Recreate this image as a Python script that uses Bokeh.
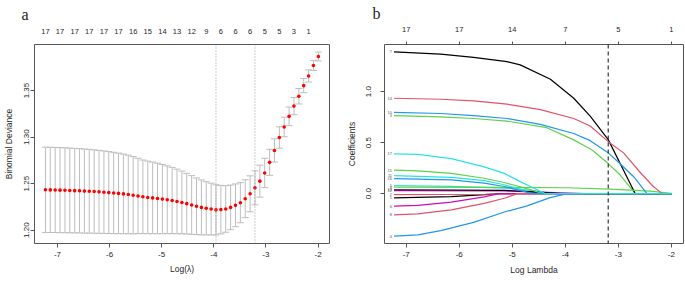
from bokeh.plotting import figure
from bokeh.models import (Range1d, FixedTicker, LinearAxis, Span, ColumnDataSource,
                          Whisker, TeeHead, PrintfTickFormatter)
from bokeh.layouts import row
from bokeh.embed import file_html
from bokeh.resources import INLINE
from bokeh.core.properties import value

# ---------------- data: panel a (cross-validation) ----------------
log_lambda = [-7.230, -7.137, -7.043, -6.950, -6.856, -6.763, -6.669, -6.576, -6.482, -6.389,
              -6.295, -6.202, -6.108, -6.015, -5.921, -5.828, -5.734, -5.641, -5.547, -5.454,
              -5.360, -5.267, -5.173, -5.080, -4.986, -4.893, -4.799, -4.706, -4.612, -4.519,
              -4.425, -4.332, -4.238, -4.145, -4.051, -3.958, -3.864, -3.771, -3.677, -3.584,
              -3.490, -3.397, -3.303, -3.210, -3.116, -3.023, -2.929, -2.836, -2.742, -2.649,
              -2.555, -2.462, -2.368, -2.275, -2.181, -2.088, -1.994]
cv_mean = [1.2434, 1.2433, 1.2432, 1.2430, 1.2429, 1.2427, 1.2425, 1.2423, 1.2420, 1.2418,
           1.2415, 1.2412, 1.2408, 1.2404, 1.2400, 1.2395, 1.2390, 1.2384, 1.2376, 1.2368,
           1.2359, 1.2352, 1.2347, 1.2341, 1.2334, 1.2327, 1.2319, 1.2309, 1.2298, 1.2285,
           1.2271, 1.2257, 1.2245, 1.2235, 1.2227, 1.2218, 1.2221, 1.2228, 1.2245, 1.2267,
           1.2295, 1.2338, 1.2391, 1.2455, 1.2527, 1.2615, 1.2729, 1.2857, 1.2996, 1.3109,
           1.3223, 1.3333, 1.3439, 1.3553, 1.3657, 1.3770, 1.3866]
cv_sd = [0.0458, 0.0458, 0.0457, 0.0457, 0.0456, 0.0455, 0.0454, 0.0453, 0.0452, 0.0450,
         0.0448, 0.0446, 0.0443, 0.0440, 0.0437, 0.0433, 0.0428, 0.0422, 0.0415, 0.0405,
         0.0395, 0.0390, 0.0385, 0.0379, 0.0372, 0.0364, 0.0356, 0.0347, 0.0337, 0.0326,
         0.0315, 0.0304, 0.0295, 0.0286, 0.0278, 0.0270, 0.0260, 0.0250, 0.0240, 0.0230,
         0.0215, 0.0203, 0.0193, 0.0183, 0.0172, 0.0158, 0.0140, 0.0125, 0.0115, 0.0105,
         0.0100, 0.0092, 0.0083, 0.0076, 0.0065, 0.0055, 0.0048]
nzero_labels = ["17", "17", "17", "17", "17", "17", "16", "15", "14", "13",
                "12", "9", "6", "6", "6", "5", "5", "3", "1"]
log_lambda_min = -3.958
log_lambda_1se = -3.210
dev_ticks = [1.20, 1.25, 1.30, 1.35]
x_ticks = [-7, -6, -5, -4, -3, -2]

# ---------------- data: panel b (coefficient paths) ----------------
path_vars = [1, 2, 3, 4, 5, 6, 7, 8, 9, 10, 11, 12, 13, 14, 15, 16, 17]
x_v1 = [-7.23, -6.15, -5.60, -5.20, -1.994]
y_v1 = [-0.042, -0.030, -0.012, 0.0, 0.0]
x_v2 = [-7.23, -5.50, -4.90, -1.994]
y_v2 = [-0.010, -0.006, 0.0, 0.0]
x_v3 = [-7.23, -6.35, -5.73, -5.10, -4.35, -3.85, -3.50, -3.19, -2.96, -2.68, -1.994]
y_v3 = [0.766, 0.753, 0.737, 0.712, 0.647, 0.530, 0.430, 0.295, 0.180, 0.0, 0.0]
x_v4 = [-7.23, -6.78, -6.35, -5.73, -5.15, -4.72, -4.30, -3.97, -1.994]
y_v4 = [-0.417, -0.404, -0.362, -0.282, -0.180, -0.120, -0.042, 0.0, 0.0]
x_v5 = [-7.23, -6.15, -5.15, -4.60, -4.20, -1.994]
y_v5 = [0.080, 0.072, 0.055, 0.030, 0.0, 0.0]
x_v6 = [-7.23, -6.78, -6.15, -5.53, -5.25, -1.994]
y_v6 = [-0.122, -0.115, -0.083, -0.032, 0.0, 0.0]
x_v7 = [-7.23, -6.35, -5.73, -5.10, -4.85, -4.28, -3.84, -3.53, -3.19, -2.68, -1.994]
y_v7 = [1.391, 1.368, 1.337, 1.295, 1.263, 1.122, 0.936, 0.760, 0.530, 0.0, 0.0]
x_v8 = [-7.23, -6.78, -6.15, -5.53, -5.15, -4.90, -1.994]
y_v8 = [-0.209, -0.199, -0.160, -0.096, -0.045, 0.0, 0.0]
x_v9 = [-7.23, -5.15, -3.97, -3.16, -2.40, -1.994]
y_v9 = [0.064, 0.062, 0.058, 0.045, 0.025, 0.003]
x_v10 = [-7.23, -6.35, -5.73, -5.10, -4.47, -3.84, -3.53, -3.19, -3.00, -2.71, -2.46, -1.994]
y_v10 = [0.798, 0.786, 0.766, 0.737, 0.680, 0.590, 0.520, 0.400, 0.310, 0.166, 0.0, 0.0]
x_v11 = [-7.23, -6.15, -5.53, -5.15, -4.85, -4.55, -1.994]
y_v11 = [0.176, 0.160, 0.128, 0.087, 0.045, 0.0, 0.0]
x_v12 = [-7.23, -5.15, -4.50, -3.60, -1.994]
y_v12 = [0.029, 0.026, 0.014, 0.0, 0.0]
x_v13 = [-7.23, -5.15, -4.60, -4.10, -1.994]
y_v13 = [0.038, 0.033, 0.018, 0.0, 0.0]
x_v14 = [-7.23, -6.35, -5.73, -5.10, -4.47, -3.84, -3.53, -3.19, -2.90, -2.59, -2.34, -2.17, -1.994]
y_v14 = [0.936, 0.926, 0.910, 0.878, 0.824, 0.737, 0.663, 0.510, 0.400, 0.210, 0.070, 0.0, 0.0]
x_v15 = [-7.23, -6.78, -6.15, -5.53, -5.15, -4.85, -4.60, -4.42, -1.994]
y_v15 = [0.231, 0.224, 0.199, 0.151, 0.109, 0.068, 0.030, 0.0, 0.0]
x_v16 = [-7.23, -6.15, -5.53, -5.15, -4.85, -4.60, -1.994]
y_v16 = [0.147, 0.135, 0.103, 0.070, 0.030, 0.0, 0.0]
x_v17 = [-7.23, -6.78, -6.15, -5.53, -5.15, -4.85, -4.60, -4.38, -1.994]
y_v17 = [0.391, 0.385, 0.343, 0.263, 0.199, 0.118, 0.055, 0.0, 0.0]
top_b_labels = ["17", "17", "14", "7", "5", "1"]
dashed_b = -3.19
coef_ticks = [0.0, 0.5, 1.0]

path_x = [x_v1, x_v2, x_v3, x_v4, x_v5, x_v6, x_v7, x_v8, x_v9, x_v10, x_v11, x_v12,
          x_v13, x_v14, x_v15, x_v16, x_v17]
path_y = [y_v1, y_v2, y_v3, y_v4, y_v5, y_v6, y_v7, y_v8, y_v9, y_v10, y_v11, y_v12,
          y_v13, y_v14, y_v15, y_v16, y_v17]

# ---------------- style ----------------
FONT = "Liberation Sans"
SERIF = "Liberation Serif"
TXT = "#262626"
LINE = "#555555"
palette = ["#000000", "#DF536B", "#61D04F", "#2297E6", "#28E2E5", "#CD0BBC"]


def style_axis(ax, ticks, fmt=None, size="8px", tick_out=4, standoff=4,
               label=None, label_standoff=6):
    ax.ticker = FixedTicker(ticks=ticks)
    if fmt is not None:
        ax.formatter = PrintfTickFormatter(format=fmt)
    ax.major_label_text_font = FONT
    ax.major_label_text_font_size = size
    ax.major_label_text_color = TXT
    ax.axis_line_color = None
    ax.major_tick_line_color = LINE if tick_out > 0 else None
    ax.major_tick_out = tick_out
    ax.major_tick_in = 0
    ax.minor_tick_line_color = None
    ax.major_label_standoff = standoff
    if label is not None:
        ax.axis_label = label
        ax.axis_label_text_font = FONT
        ax.axis_label_text_font_size = "8.5px"
        ax.axis_label_text_font_style = "normal"
        ax.axis_label_text_color = TXT
        ax.axis_label_text_line_height = 1.0
        ax.axis_label_standoff = label_standoff


def base_fig(width, x_range, y_range, bl, br, bt, bb, tag, tag_offset, tag_standoff):
    p = figure(width=width, height=281, x_range=x_range, y_range=y_range,
               toolbar_location=None, output_backend="svg",
               min_border_left=bl, min_border_right=br,
               min_border_top=bt, min_border_bottom=bb)
    p.grid.visible = False
    p.outline_line_color = LINE
    p.outline_line_width = 1
    p.background_fill_color = "white"
    p.border_fill_color = "white"
    p.title.text = tag
    p.title.text_font = SERIF
    p.title.text_font_size = "16px"
    p.title.text_font_style = "normal"
    p.title.text_color = "#222222"
    p.title.text_line_height = 0.6
    p.title.align = "left"
    p.title.offset = tag_offset
    p.title.standoff = tag_standoff
    return p


# ---------------- panel a ----------------
pa = base_fig(340, Range1d(-7.44, -1.78), Range1d(1.1857, 1.3995), 34, 11, 43, 38,
              "a", -13, 6)
style_axis(pa.xaxis[0], x_ticks, fmt="%d", standoff=4, label="Log(\u03bb)", label_standoff=4)
style_axis(pa.yaxis[0], dev_ticks, fmt="%.2f", standoff=1, label="Binomial Deviance",
           label_standoff=8)
pa.yaxis[0].major_label_orientation = "vertical"

top_a = LinearAxis()
style_axis(top_a, log_lambda[::3], size="7.5px", tick_out=0, standoff=11)
top_a.major_label_overrides = {t: s for t, s in zip(log_lambda[::3], nzero_labels)}
pa.add_layout(top_a, "above")

src_a = ColumnDataSource(dict(x=log_lambda, m=cv_mean,
                              up=[m + s for m, s in zip(cv_mean, cv_sd)],
                              lo=[m - s for m, s in zip(cv_mean, cv_sd)]))
for loc in (log_lambda_min, log_lambda_1se):
    pa.add_layout(Span(location=loc, dimension="height", line_color="#9a9a9a",
                       line_dash="1 2", line_width=1))
wh = Whisker(source=src_a, base="x", upper="up", lower="lo", line_color="#bdbdbd",
             line_width=1,
             upper_head=TeeHead(size=7, line_color="#bdbdbd", line_width=1),
             lower_head=TeeHead(size=7, line_color="#bdbdbd", line_width=1))
pa.add_layout(wh)
pa.scatter("x", "m", source=src_a, size=3.6, color="#ff0000", line_color=None)

# ---------------- panel b ----------------
pb = base_fig(345, Range1d(-7.41, -1.77), Range1d(-0.489, 1.463), 44, 2, 42, 37,
              "b", -12, 4)
style_axis(pb.xaxis[0], x_ticks, fmt="%d", standoff=4, label="Log Lambda", label_standoff=5)
style_axis(pb.yaxis[0], coef_ticks, fmt="%.1f", standoff=9, label="Coefficients",
           label_standoff=7)
pb.yaxis[0].major_label_orientation = "vertical"

top_b = LinearAxis()
style_axis(top_b, x_ticks, size="7.5px", tick_out=3, standoff=10)
top_b.major_label_overrides = {t: s for t, s in zip(x_ticks, top_b_labels)}
pb.add_layout(top_b, "above")

for v, xs, ys in zip(path_vars, path_x, path_y):
    pb.line(xs, ys, line_color=palette[(v - 1) % 6], line_width=1.2)

pb.add_layout(Span(location=dashed_b, dimension="height", line_color="#333333",
                   line_dash="4 3", line_width=1.2))

pb.text(x=[xs[0] for xs in path_x], y=[ys[0] for ys in path_y],
        text=[str(v) for v in path_vars], x_offset=-2, text_align="right",
        text_baseline="middle", text_font=value(FONT), text_font_size="4px",
        text_color="#555555")

layout = row(pa, pb)
open("out.html", "w").write(file_html(layout, INLINE))
